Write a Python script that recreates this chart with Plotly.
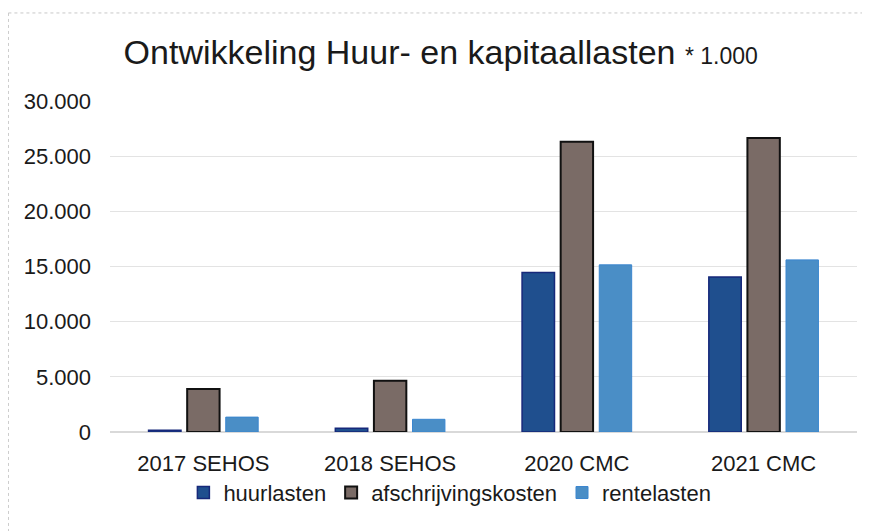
import plotly.graph_objects as go

categories = ["2017 SEHOS", "2018 SEHOS", "2020 CMC", "2021 CMC"]
huurlasten = [150, 350, 14450, 14050]
afschrijvingskosten = [3900, 4650, 26300, 26650]
rentelasten = [1350, 1150, 15150, 15600]

fig = go.Figure()

fig.add_trace(go.Bar(
    x=categories, y=huurlasten, name="huurlasten",
    marker=dict(color="#1f4f8e", line=dict(color="#16287a", width=1.5))
))
fig.add_trace(go.Bar(
    x=categories, y=afschrijvingskosten, name="afschrijvingskosten",
    marker=dict(color="#7a6b66", line=dict(color="#111111", width=2))
))
fig.add_trace(go.Bar(
    x=categories, y=rentelasten, name="rentelasten",
    marker=dict(color="#4a8ec6", line=dict(color="#3a86cf", width=1))
))

font_family = "Liberation Sans, Arial, sans-serif"

# page has an 8px body margin, so the figure is drawn 8px smaller
fig.update_layout(
    width=862, height=523,
    margin=dict(l=102, r=13, t=93, b=99),
    paper_bgcolor="white", plot_bgcolor="white",
    separators=",.",
    barmode="group", bargap=0.38, bargroupgap=0.16,
    font=dict(family=font_family, size=22, color="#1a1a1a"),
    title=dict(
        text="Ontwikkeling Huur- en kapitaallasten <span style='font-size:23px'>* 1.000</span>",
        font=dict(family=font_family, size=34, color="#1a1a1a"),
        xref="container", x=0.502, xanchor="center",
        yref="container", y=0.915, yanchor="middle",
    ),
    showlegend=True,
    legend=dict(
        orientation="h", x=0.455, xanchor="center", y=-0.12, yanchor="top",
        font=dict(size=22), itemwidth=30, traceorder="normal",
    ),
    shapes=[
        dict(type="line", xref="paper", yref="paper", x0=-0.136, x1=1.02, y0=1.266, y1=1.266,
             line=dict(color="#c8c8c8", width=1, dash="dot")),
        dict(type="line", xref="paper", yref="paper", x0=-0.136, x1=-0.136, y0=1.266, y1=-0.3,
             line=dict(color="#c8c8c8", width=1, dash="dot")),
    ],
)

fig.update_yaxes(
    range=[0, 30000], dtick=5000, tickformat=",d",
    showgrid=True, gridcolor="#e3e3e3", gridwidth=1,
    zeroline=True, zerolinecolor="#d9d9d9",
    showline=False, ticks="", ticklabelstandoff=18,
    tickfont=dict(size=22),
)
fig.update_xaxes(
    showline=True, linecolor="#d9d9d9", ticks="",
    ticklabelstandoff=12, tickfont=dict(size=22),
)

fig.write_html("out.html")
